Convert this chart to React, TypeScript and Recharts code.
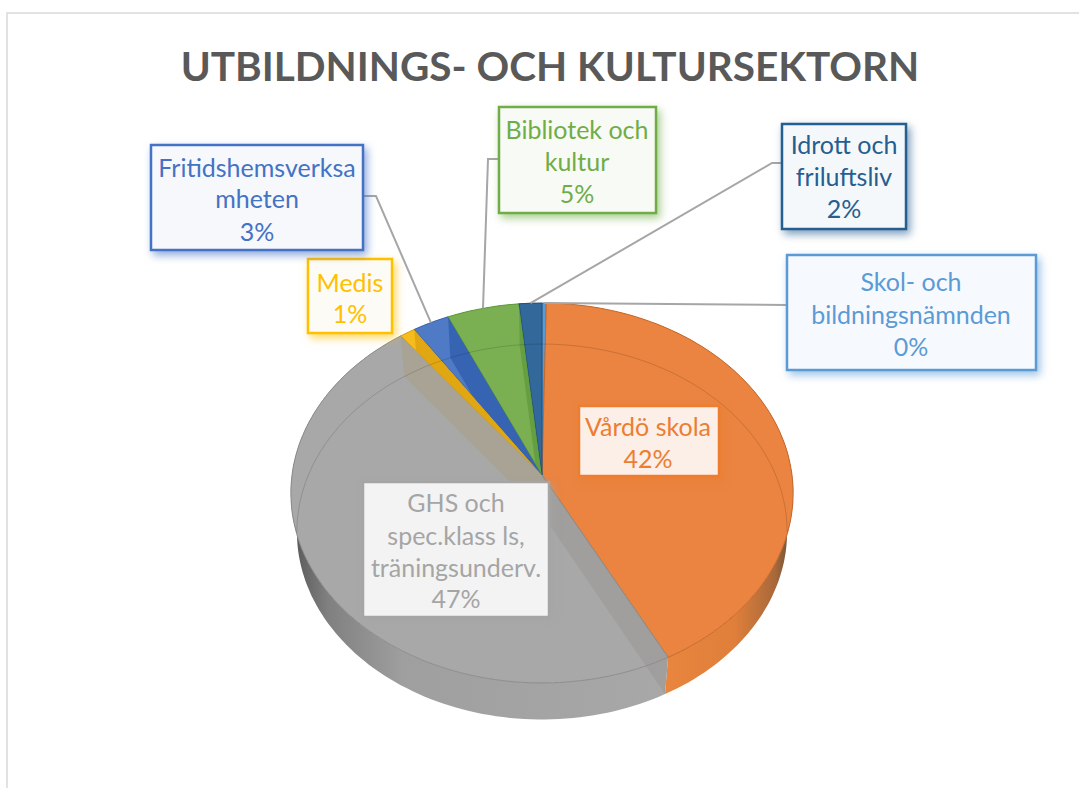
import { PieChart, Pie } from "recharts";

const categories = [
  "Skol- och bildningsnämnden",
  "Vårdö skola",
  "GHS och spec.klass ls, träningsunderv.",
  "Medis",
  "Fritidshemsverksamheten",
  "Bibliotek och kultur",
  "Idrott och friluftsliv",
];
const shares = [0.3, 42.1, 47.3, 1.1, 2.6, 5.1, 1.6];
const labelLines = [
  ["Skol- och", "bildningsnämnden"],
  ["Vårdö skola"],
  ["GHS och", "spec.klass ls,", "träningsunderv."],
  ["Medis"],
  ["Fritidshemsverksa", "mheten"],
  ["Bibliotek och", "kultur"],
  ["Idrott och", "friluftsliv"],
];

const TITLE = "UTBILDNINGS- OCH KULTURSEKTORN";
const FONT = "Lato, Carlito, sans-serif";

const sliceColors = ["#5B9BD5", "#EA8440", "#A8A8A8", "#F6BC1C", "#4F7AC6", "#7AB052", "#33689A"];
const labelColors = ["#5B9BD5", "#ED7D31", "#A5A5A5", "#FFC000", "#4472C4", "#70AD47", "#255E91"];
const labelFills = ["#F6F9FD", "#FBEFE8", "#F3F3F3", "#FCFBF6", "#F6F8FC", "#F8FAF6", "#F5F8FB"];
const edgeColors = ["#4a86bd", "#c4692c", "#8c8c8c", "#d9a010", "#3c64ab", "#5f9a3c", "#1f5080"];
const wallFills = ["#3f78ad", "url(#orangeWall)", "url(#greyWall)", "#c79a10", "#345ca5", "#5a8f38", "#1f4d78"];
const cutFills = ["none", "none", "#a89f88", "#d9a010", "#2f5dab", "#5f9a3c", "none"];

// box, text line centres and leader elbow of each data label
const labelBoxes = [
  { x: 787, y: 255, w: 249, h: 115, cx: 911, ys: [281, 314, 346], leader: [[787, 305]] },
  { x: 579, y: 406, w: 140, h: 70, cx: 648, ys: [426, 458], leader: null },
  { x: 363, y: 482, w: 186, h: 135, cx: 456, ys: [502, 535, 567, 598], leader: null },
  { x: 308, y: 259, w: 84, h: 74, cx: 350, ys: [282, 313], leader: null },
  { x: 151, y: 145, w: 212, h: 105, cx: 257, ys: [167, 198, 231], leader: [[363, 196], [376, 196]] },
  { x: 499, y: 107, w: 157, h: 106, cx: 577, ys: [129, 161, 193], leader: [[499, 159], [488, 159]] },
  { x: 782, y: 124, w: 124, h: 105, cx: 844, ys: [144, 176, 208], leader: [[782, 163], [772, 163]] },
];

const rows = categories.map((name, i) => ({ name, value: shares[i], fill: sliceColors[i] }));

const PERSPECTIVE = -0.0947;
const TOP_FACE = { sx: 1, sy: 0.753, dy: 0 };
const BOTTOM_FACE = { sx: 0.976, sy: 0.744, dy: 39 };

type Face = typeof TOP_FACE;

function project(cx: number, cy: number, r: number, angle: number, face: Face) {
  const a = (angle * Math.PI) / 180;
  const u = Math.cos(a);
  const v = -Math.sin(a);
  const d = 1 + PERSPECTIVE * v;
  return { x: cx + (r * face.sx * u) / d, y: cy + face.dy + (r * face.sy * v) / d };
}

function arc(p: any, face: Face) {
  const n = Math.max(1, Math.ceil(Math.abs(p.endAngle - p.startAngle) / 1.5));
  const pts = [];
  for (let i = 0; i <= n; i++) {
    pts.push(project(p.cx, p.cy, p.outerRadius, p.startAngle + ((p.endAngle - p.startAngle) * i) / n, face));
  }
  return pts;
}

const toPath = (pts: { x: number; y: number }[], close = true) =>
  pts.map((q, i) => `${i ? "L" : "M"}${q.x.toFixed(1)} ${q.y.toFixed(1)}`).join(" ") + (close ? " Z" : "");

function RimWall(p: any) {
  const i = categories.indexOf(p.name);
  const top = arc(p, TOP_FACE);
  const bottom = arc(p, BOTTOM_FACE).reverse();
  return <path d={toPath([...top, ...bottom])} fill={wallFills[i]} />;
}

function TopFace(p: any) {
  const i = categories.indexOf(p.name);
  const pts = [{ x: p.cx, y: p.cy }, ...arc(p, TOP_FACE)];
  return <path d={toPath(pts)} fill={sliceColors[i]} stroke={edgeColors[i]} strokeWidth={1} />;
}

function cutWall(p: any, angle: number) {
  const top = project(p.cx, p.cy, p.outerRadius, angle, TOP_FACE);
  const bottom = project(p.cx, p.cy, p.outerRadius, angle, BOTTOM_FACE);
  return toPath([
    { x: p.cx, y: p.cy },
    top,
    bottom,
    { x: p.cx, y: p.cy + BOTTOM_FACE.dy },
  ]);
}

// what shows through the glassy top: the cut faces and the far edge of the base
function SeeThrough(p: any) {
  const i = categories.indexOf(p.name);
  const id = `slice-clip-${i}`;
  const base = arc(p, BOTTOM_FACE).filter((q) => q.y < p.cy + 62);
  const sector = toPath([{ x: p.cx, y: p.cy }, ...arc(p, TOP_FACE)]);
  const isGrey = labelColors[i] === "#A5A5A5";
  return (
    <g>
      <clipPath id={id}>
        <path d={sector} />
      </clipPath>
      {cutFills[i] !== "none" && (
        <path
          d={cutWall(p, p.endAngle)}
          fill={cutFills[i]}
          opacity={isGrey ? 0.65 : 0.75}
          clipPath={isGrey ? undefined : `url(#${id})`}
        />
      )}
      {isGrey && <path d={cutWall(p, p.startAngle)} fill="#8f8a85" opacity={0.3} />}
      {base.length > 1 && <path d={toPath(base, false)} fill="none" stroke="#000" strokeOpacity={0.14} strokeWidth={1} />}
    </g>
  );
}

function DataLabel(p: any) {
  const i = categories.indexOf(p.name);
  const box = labelBoxes[i];
  const color = labelColors[i];
  const texts = [...labelLines[i], `${Math.round(p.percent * 100)}%`];
  const rim = project(p.cx, p.cy, p.outerRadius, p.midAngle, TOP_FACE);
  return (
    <g>
      {box.leader && (
        <path
          d={toPath([...box.leader.map(([x, y]) => ({ x, y })), rim], false)}
          fill="none"
          stroke="#A6A6A6"
          strokeWidth={2}
        />
      )}
      <rect
        x={box.x}
        y={box.y}
        width={box.w}
        height={box.h}
        fill={labelFills[i]}
        stroke={color}
        strokeWidth={2.5}
        style={{ filter: `drop-shadow(3px 4px 4px ${color}99)` }}
      />
      {texts.map((t, k) => (
        <text
          key={k}
          x={box.cx}
          y={box.ys[k]}
          textAnchor="middle"
          dominantBaseline="central"
          fontFamily={FONT}
          fontSize={25}
          fill={color}
        >
          {t}
        </text>
      ))}
    </g>
  );
}

const pieProps = {
  data: rows,
  dataKey: "value",
  nameKey: "name",
  cx: 542,
  cy: 475,
  outerRadius: 250,
  startAngle: 90,
  endAngle: -270,
  paddingAngle: 0,
  stroke: "none",
  isAnimationActive: false,
  labelLine: false,
};

export default function App() {
  return (
    <div style={{ position: "absolute", left: 0, top: 0, width: 1079, height: 788, background: "#fff" }}>
      <PieChart width={1079} height={788} margin={{ top: 0, right: 0, bottom: 0, left: 0 }}>
        <defs>
          <linearGradient id="greyWall" gradientUnits="userSpaceOnUse" x1={290} y1={0} x2={668} y2={0}>
            <stop offset="0" stopColor="#555" />
            <stop offset="0.1" stopColor="#808080" />
            <stop offset="0.3" stopColor="#9f9f9f" />
            <stop offset="1" stopColor="#a8a8a8" />
          </linearGradient>
          <linearGradient id="orangeWall" gradientUnits="userSpaceOnUse" x1={668} y1={0} x2={790} y2={0}>
            <stop offset="0" stopColor="#e8853e" />
            <stop offset="0.55" stopColor="#df7f3a" />
            <stop offset="0.88" stopColor="#a8683a" />
            <stop offset="1" stopColor="#6e5238" />
          </linearGradient>
        </defs>
        <rect x={7} y={13} width={1300} height={1000} fill="none" stroke="#D9D9D9" strokeWidth={1.5} />
        <text
          x={550}
          y={65}
          textAnchor="middle"
          dominantBaseline="central"
          fontFamily={FONT}
          fontWeight={700}
          fontSize={40.5}
          fill="#595959"
        >
          {TITLE}
        </text>
        <Pie {...pieProps} shape={RimWall} />
        <Pie {...pieProps} shape={TopFace} />
        <Pie {...pieProps} shape={SeeThrough} label={DataLabel} />
      </PieChart>
    </div>
  );
}
